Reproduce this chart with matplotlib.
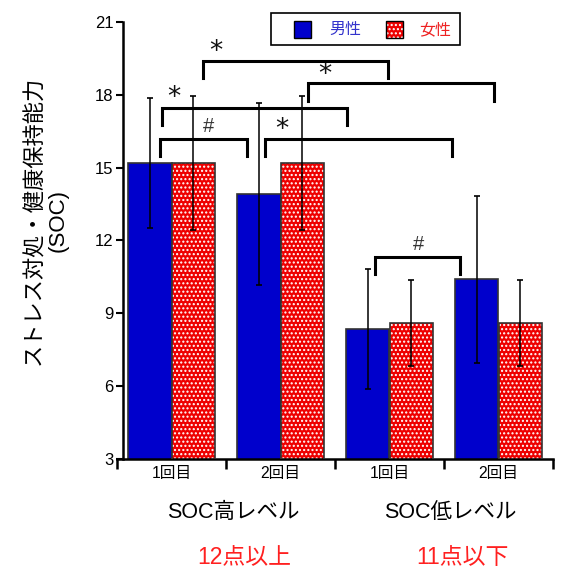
import numpy as np
import matplotlib
matplotlib.use("Agg")
import matplotlib.pyplot as plt
from matplotlib.patches import Rectangle

plt.rcParams['font.family'] = ['Liberation Sans', 'Noto Sans CJK JP', 'DejaVu Sans']
plt.rcParams['hatch.linewidth'] = 1.0

# data
sessions = ['1回目', '2回目', '1回目', '2回目']
levels = ['SOC高レベル', 'SOC低レベル']
level_notes = ['12点以上', '11点以下']
male_mean = [15.2, 13.9, 8.35, 10.4]
male_err = [2.68, 3.75, 2.47, 3.43]
female_mean = [15.2, 15.2, 8.6, 8.6]
female_err = [2.76, 2.76, 1.78, 1.78]
series = ['男性', '女性']

# significance brackets: (x left, x right, y, leg bottom, label, label x, label y)
brackets = [
    (0.29, 1.99, 19.39, 18.69, '*', 0.41, 19.76),
    (1.25, 2.96, 18.50, 17.76, '*', 1.41, 18.82),
    (-0.09, 1.61, 17.46, 16.76, '*', 0.02, 17.87),
    (-0.11, 0.69, 16.19, 15.48, '#', 0.34, 16.68),
    (0.86, 2.57, 16.19, 15.48, '*', 1.01, 16.55),
    (1.87, 2.65, 11.33, 10.62, '#', 2.27, 11.82),
]

blue = '#0000CC'
red = '#EE0000'
W, H = 563, 572

fig = plt.figure(figsize=(W / 100, H / 100), dpi=100)
ax = fig.add_axes([117 / W, 1 - 459 / H, (553 - 117) / W, (459 - 22) / H])

x = np.arange(len(sessions))
bw = 0.4
ax.bar(x - bw / 2, male_mean, bw, bottom=0, color=blue, edgecolor='#333333', linewidth=1.2, zorder=2)
ax.bar(x + bw / 2, female_mean, bw, color=red, edgecolor='white', hatch='....', linewidth=0, zorder=2)
ax.bar(x + bw / 2, female_mean, bw, color='none', edgecolor='#333333', linewidth=1.2, zorder=3)

ax.errorbar(x - bw / 2, male_mean, yerr=male_err, fmt='none', ecolor='black', elinewidth=1.1,
            capsize=2.5, capthick=1.2, zorder=4)
ax.errorbar(x + bw / 2, female_mean, yerr=female_err, fmt='none', ecolor='black', elinewidth=1.1,
            capsize=2.5, capthick=1.2, zorder=4)

for x1, x2, yb, y0, lab, lx, ly in brackets:
    ax.plot([x1, x1, x2, x2], [y0, yb, yb, y0], color='black', lw=2.2, solid_joinstyle='miter',
            clip_on=False, zorder=5)
    if lab == '*':
        ax.text(lx, ly, lab, ha='center', va='center', fontsize=19,
                family='DejaVu Sans', color='#111111')
    else:
        ax.text(lx, ly, lab, ha='center', va='center', fontsize=14.5, color='#333333')

ax.set_xlim(-0.5, 3.5)
ax.set_ylim(3, 21)
ax.set_yticks([3, 6, 9, 12, 15, 18, 21])
ax.spines['left'].set_position(('data', -0.445))
ax.spines['top'].set_visible(False)
ax.spines['right'].set_visible(False)
ax.spines['left'].set_linewidth(1.8)
ax.spines['bottom'].set_linewidth(1.8)
ax.tick_params(axis='y', direction='out', length=5, width=1.5, labelsize=12, pad=2)

ax.set_xticks(x)
ax.set_xticklabels(sessions, fontsize=11.3)
ax.set_xticks(np.arange(-0.5, 4, 1), minor=True)
ax.tick_params(axis='x', which='major', length=0, pad=5)
ax.tick_params(axis='x', which='minor', direction='out', length=7, width=1.8)

fig.text(46 / W, 1 - 220 / H, 'ストレス対処・健康保持能力\n(SOC)', rotation=90, ha='center', va='center',
         multialignment='center', fontsize=16, linespacing=1.15)

for cx, lab in zip([233, 450], levels):
    fig.text(cx / W, 1 - 512 / H, lab, ha='center', va='center', fontsize=15.5)
for cx, lab in zip([244, 462], level_notes):
    fig.text(cx / W, 1 - 558 / H, lab, ha='center', va='center', fontsize=16.5, color='#FF2020')

# legend box drawn by hand to match the original spacing
fig.patches.append(Rectangle((271 / W, 1 - 45 / H), (460 - 271) / W, 32 / H, transform=fig.transFigure,
                             facecolor='white', edgecolor='black', linewidth=1.2, zorder=6))
fig.patches.append(Rectangle((294 / W, 1 - 38 / H), 17 / W, 17 / H, transform=fig.transFigure,
                             facecolor=blue, edgecolor='black', linewidth=1, zorder=7))
fig.patches.append(Rectangle((386 / W, 1 - 38 / H), 17 / W, 17 / H, transform=fig.transFigure,
                             facecolor=red, edgecolor='white', hatch='....', linewidth=0, zorder=7))
fig.patches.append(Rectangle((386 / W, 1 - 38 / H), 17 / W, 17 / H, transform=fig.transFigure,
                             facecolor='none', edgecolor='black', linewidth=1, zorder=7))
for lx, lab, c in zip([329, 419], series, ['#3333CC', '#EE2222']):
    fig.text(lx / W, 1 - 29.5 / H, lab, ha='left', va='center', fontsize=11.5, color=c, zorder=8)

fig.savefig('out.png', dpi=100)
